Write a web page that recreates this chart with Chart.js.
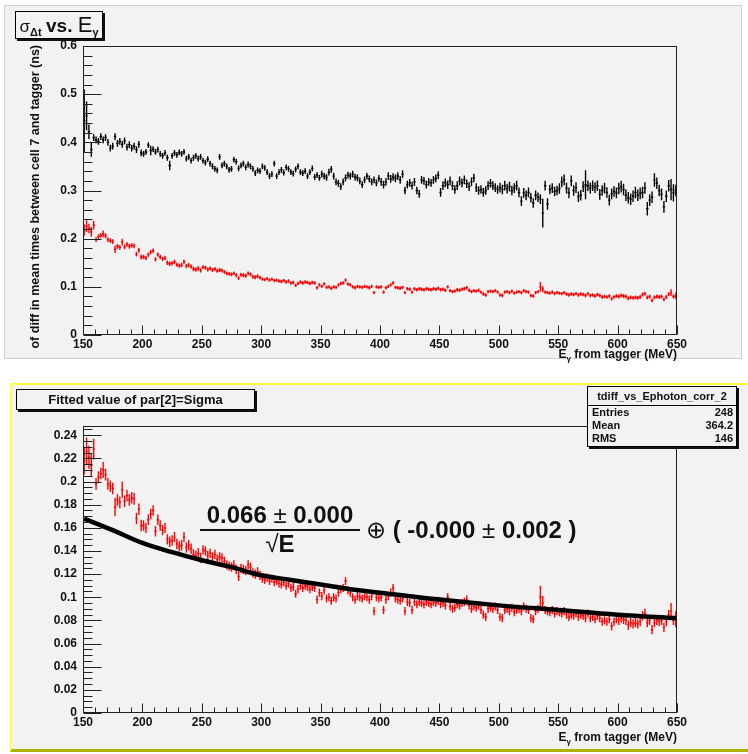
<!DOCTYPE html>
<html>
<head>
<meta charset="utf-8">
<script src="https://cdn.jsdelivr.net/npm/chart.js@4.4.1/dist/chart.umd.min.js"></script>
<style>
  body { margin: 0; width: 748px; height: 754px; position: relative; overflow: hidden; background: #fff;
         font-family: "Liberation Sans", Arial, sans-serif; color: #111; }
  .pad { position: absolute; background: #f2f2f2; }
  #padTop { left: 4px; top: 5px; width: 736px; height: 352px; border: 1px solid #cfcfcf; }
  #padBot { left: 10px; top: 383px; width: 738px; height: 364px; border-top: 2px solid #ffff3a;
            border-left: 2px solid #ffff3a; border-bottom: 3px solid #b0b000; }
  canvas { position: absolute; left: 0; }
  #cTop { top: 0; }
  #cBot { top: 380px; }
  .box { position: absolute; background: #f2f2f2; border: 1px solid #000; box-shadow: 2px 2px 0 #111;
         box-sizing: border-box; white-space: nowrap; }
  #titleTop { left: 15px; top: 11px; width: 88px; height: 28px; text-align: center; line-height: 26px; }
  #titleTop .sig { font-size: 17px; }
  #titleTop sub { font-size: 11px; font-weight: bold; vertical-align: -4px; }
  #titleTop .vs { font-size: 19px; font-weight: bold; }
  #titleTop .e { font-size: 22px; }
  #titleBot { left: 16px; top: 389px; width: 239px; height: 21px; text-align: center; font-weight: bold;
              font-size: 13px; line-height: 20px; }
  #stats { left: 587px; top: 386px; width: 150px; height: 61px; font-weight: bold; font-size: 11px; }
  #stats .head { text-align: center; height: 18px; line-height: 18px; border-bottom: 1px solid #000; }
  #stats .row { height: 13px; line-height: 13px; padding: 0 3px 0 4px; display: flex; justify-content: space-between; }
  .axtitle { position: absolute; font-weight: bold; font-size: 12px; white-space: nowrap; }
  .axtitle sub { font-size: 8px; vertical-align: -3px; }
  #xtTop { right: 71px; top: 347px; }
  #xtBot { right: 71px; top: 730px; }
  #ytTop { left: 28px; top: 385px; width: 340px; text-align: right; transform-origin: left top;
           transform: rotate(-90deg); line-height: 14px; font-size: 12.5px; }
  #formula { position: absolute; left: 190px; top: 502px; font-weight: bold; font-size: 24px; }
  #formula .frac { position: absolute; left: 10px; top: 0; width: 160px; text-align: center; }
  #formula .num { display: block; line-height: 26px; border-bottom: 2px solid #111; padding-bottom: 1px; }
  #formula .den { display: block; line-height: 26px; }
  #formula .rest { position: absolute; left: 176px; top: 15px; white-space: nowrap; line-height: 26px; }
  .thin { font-weight: normal; }
</style>
</head>
<body>
<div class="pad" id="padTop"></div>
<div class="pad" id="padBot"></div>
<canvas id="cTop" width="748" height="360"></canvas>
<canvas id="cBot" width="748" height="360"></canvas>

<div class="box" id="titleTop"><span class="sig">σ</span><sub>Δt</sub> <span class="vs">vs. </span><span class="e">E</span><sub>γ</sub></div>
<div class="axtitle" id="ytTop">of diff in mean times between cell 7 and tagger (ns)</div>
<div class="axtitle" id="xtTop">E<sub>γ</sub> from tagger (MeV)</div>

<div class="box" id="titleBot">Fitted value of par[2]=Sigma</div>
<div class="box" id="stats">
  <div class="head">tdiff_vs_Ephoton_corr_2</div>
  <div class="row"><span>Entries</span><span>248</span></div>
  <div class="row"><span>Mean</span><span>364.2</span></div>
  <div class="row"><span>RMS</span><span>146</span></div>
</div>
<div id="formula">
  <div class="frac"><span class="num">0.066 <span class="thin">±</span> 0.000</span><span class="den"><span class="thin">√</span>E</span></div>
  <div class="rest"><span class="thin">⊕</span> ( -0.000 <span class="thin">±</span> 0.002 )</div>
</div>
<div class="axtitle" id="xtBot">E<sub>γ</sub> from tagger (MeV)</div>

<script>
// bins of 2 MeV from 150 to 650
const binLow = 150;
const binWidth = 2;
const nBins = 250;
const energies = Array.from({ length: nBins }, (_, i) => binLow + binWidth * (i + 0.5));

// sigma of time difference, before correction (black)
const blackSigma = [
  0.445, 0.455, 0.422, 0.385, 0.41, 0.405, 0.402, 0.412, 0.405, 0.41, 0.4, 0.388, 0.392, 0.412, 0.398, 0.402, 0.396, 0.403, 0.39, 0.395, 0.388, 0.392, 0.385, 0.396, 0.378,
  0.376, 0.38, 0.394, 0.383, 0.386, 0.38, 0.385, 0.376, 0.372, 0.378, 0.368, 0.352, 0.372, 0.378, 0.374, 0.379, 0.376, 0.38, 0.366, 0.37, 0.362, 0.368, 0.372, 0.366, 0.37,
  0.362, 0.358, 0.365, 0.356, 0.35, 0.345, 0.342, 0.37, 0.352, 0.356, 0.35, 0.343, 0.345, 0.364, 0.36, 0.346, 0.352, 0.356, 0.348, 0.354, 0.35, 0.345, 0.336, 0.342, 0.34,
  0.35, 0.347, 0.338, 0.33, 0.334, 0.356, 0.33, 0.338, 0.343, 0.337, 0.348, 0.345, 0.338, 0.335, 0.344, 0.35, 0.338, 0.336, 0.34, 0.33, 0.338, 0.346, 0.328, 0.332, 0.326,
  0.334, 0.33, 0.327, 0.338, 0.344, 0.33, 0.318, 0.315, 0.308, 0.318, 0.326, 0.332, 0.33, 0.334, 0.328, 0.326, 0.32, 0.312, 0.322, 0.33, 0.324, 0.318, 0.322, 0.316, 0.325,
  0.318, 0.312, 0.318, 0.33, 0.324, 0.328, 0.325, 0.33, 0.322, 0.334, 0.3, 0.312, 0.316, 0.31, 0.318, 0.3, 0.293, 0.322, 0.32, 0.312, 0.318, 0.316, 0.322, 0.325, 0.332,
  0.296, 0.31, 0.316, 0.312, 0.32, 0.31, 0.302, 0.31, 0.32, 0.316, 0.322, 0.314, 0.308, 0.318, 0.326, 0.306, 0.3, 0.302, 0.296, 0.3, 0.31, 0.315, 0.31, 0.306, 0.302,
  0.306, 0.302, 0.31, 0.304, 0.308, 0.3, 0.305, 0.31, 0.296, 0.278, 0.295, 0.29, 0.296, 0.285, 0.274, 0.29, 0.286, 0.282, 0.253, 0.31, 0.272, 0.302, 0.305, 0.298, 0.3,
  0.304, 0.318, 0.322, 0.305, 0.295, 0.32, 0.3, 0.306, 0.287, 0.29, 0.308, 0.312, 0.31, 0.305, 0.31, 0.306, 0.31, 0.292, 0.3, 0.305, 0.296, 0.28, 0.293, 0.298, 0.295,
  0.304, 0.308, 0.302, 0.29, 0.285, 0.282, 0.288, 0.296, 0.29, 0.294, 0.296, 0.305, 0.262, 0.28, 0.286, 0.322, 0.315, 0.3, 0.292, 0.266, 0.288, 0.31, 0.302, 0.295, 0.3
];

// sigma after correction (red), same histogram shown in both pads
const redSigma = [
  0.218, 0.226, 0.221, 0.214, 0.228, 0.198, 0.204, 0.207, 0.21, 0.206, 0.198, 0.196, 0.194, 0.178, 0.184, 0.182, 0.193, 0.183, 0.188, 0.184, 0.186, 0.185, 0.168, 0.176, 0.162,
  0.162, 0.16, 0.167, 0.172, 0.175, 0.157, 0.167, 0.162, 0.158, 0.16, 0.15, 0.148, 0.149, 0.152, 0.146, 0.144, 0.145, 0.152, 0.143, 0.145, 0.142, 0.137, 0.136, 0.138, 0.134,
  0.141, 0.14, 0.136, 0.138, 0.135, 0.137, 0.133, 0.135, 0.134, 0.131, 0.128, 0.127, 0.126, 0.128, 0.124, 0.118, 0.125, 0.124, 0.123, 0.128, 0.126, 0.121, 0.12, 0.122, 0.119,
  0.116, 0.115, 0.117, 0.114, 0.116, 0.113, 0.114, 0.112, 0.111, 0.113, 0.11, 0.112, 0.108, 0.109, 0.103, 0.107, 0.11, 0.108, 0.11, 0.109, 0.107, 0.109, 0.108, 0.098, 0.104,
  0.101, 0.106, 0.099, 0.1, 0.097, 0.1, 0.099, 0.104, 0.107, 0.108, 0.114, 0.106, 0.104, 0.1, 0.098, 0.101, 0.1, 0.099, 0.101, 0.1, 0.098, 0.101, 0.088, 0.1, 0.099,
  0.1, 0.089, 0.098, 0.101, 0.104, 0.108, 0.099, 0.098, 0.097, 0.099, 0.088, 0.096, 0.095, 0.089, 0.096, 0.094, 0.096, 0.095, 0.094, 0.096, 0.095, 0.094, 0.096, 0.095, 0.097,
  0.094, 0.095, 0.093, 0.1, 0.092, 0.09, 0.091, 0.094, 0.093, 0.095, 0.096, 0.098, 0.093, 0.09, 0.092, 0.091, 0.093, 0.089, 0.085, 0.083, 0.09, 0.091, 0.09, 0.092, 0.089,
  0.083, 0.082, 0.089, 0.09, 0.088, 0.091, 0.087, 0.089, 0.09, 0.088, 0.092, 0.09, 0.089, 0.082, 0.081, 0.088, 0.09, 0.1, 0.095, 0.089, 0.088, 0.087, 0.089, 0.086, 0.088,
  0.087, 0.086, 0.088, 0.085, 0.083, 0.085, 0.084, 0.086, 0.083, 0.085, 0.084, 0.082, 0.086, 0.082, 0.083, 0.081, 0.084, 0.082, 0.079, 0.08, 0.079, 0.081, 0.075, 0.079, 0.081,
  0.08, 0.082, 0.081, 0.08, 0.076, 0.078, 0.077, 0.078, 0.077, 0.079, 0.084, 0.086, 0.078, 0.08, 0.072, 0.078, 0.08, 0.079, 0.08, 0.074, 0.079, 0.085, 0.088, 0.08, 0.081
];

// typical error per 50 MeV block, plus the few bins with larger bars
const blackErrBlock = [0.007, 0.006, 0.006, 0.006, 0.007, 0.008, 0.009, 0.01, 0.011, 0.012];
const blackErrBig = { 151: 0.065, 153: 0.03, 155: 0.015, 157: 0.015, 207: 0.01, 223: 0.01, 537: 0.03, 541: 0.012, 573: 0.03, 625: 0.014, 631: 0.014, 645: 0.022, 647: 0.018 };
const redErrBlock = [0.005, 0.0045, 0.004, 0.0035, 0.0035, 0.0035, 0.0035, 0.0035, 0.0035, 0.004];
const redErrBig = { 151: 0.012, 153: 0.012, 155: 0.01, 157: 0.01, 159: 0.009, 167: 0.007, 177: 0.008, 183: 0.007, 535: 0.01, 537: 0.006, 645: 0.007, 649: 0.007 };

// fit curve
const fitE = [151, 175, 200, 225, 250, 275, 300, 325, 350, 375, 400, 450, 500, 550, 600, 650];
const fitSigma = [0.168, 0.158, 0.147, 0.139, 0.132, 0.126, 0.119, 0.115, 0.111, 0.107, 0.104, 0.098, 0.093, 0.089, 0.085, 0.082];

// axis ticks
const xTicks = [150, 200, 250, 300, 350, 400, 450, 500, 550, 600, 650];
const yTicksTop = [0, 0.1, 0.2, 0.3, 0.4, 0.5, 0.6];
const yTicksBot = [0, 0.02, 0.04, 0.06, 0.08, 0.1, 0.12, 0.14, 0.16, 0.18, 0.2, 0.22, 0.24];

function points(vals, errBlock, errBig) {
  return vals.map((v, i) => {
    const e = energies[i];
    const err = errBig[e] !== undefined ? errBig[e] : errBlock[Math.floor(i / 25)];
    return { x: e, y: v, err: err };
  });
}

// ROOT style crosses: horizontal bar = bin width, vertical bar = error
const errorBars = {
  id: 'errorBars',
  beforeDatasetsDraw(chart) {
    const { ctx, chartArea } = chart;
    const x = chart.scales.x, y = chart.scales.y;
    ctx.save();
    ctx.beginPath();
    ctx.rect(chartArea.left, chartArea.top, chartArea.width, chartArea.height);
    ctx.clip();
    chart.data.datasets.forEach(ds => {
      if (!ds.crosses) return;
      ctx.strokeStyle = ds.borderColor;
      ctx.lineWidth = 1.4;
      ctx.beginPath();
      ds.data.forEach(p => {
        const px = x.getPixelForValue(p.x), py = y.getPixelForValue(p.y);
        ctx.moveTo(x.getPixelForValue(p.x - binWidth / 2), py);
        ctx.lineTo(x.getPixelForValue(p.x + binWidth / 2), py);
        ctx.moveTo(px, y.getPixelForValue(p.y - p.err));
        ctx.lineTo(px, y.getPixelForValue(p.y + p.err));
      });
      ctx.stroke();
    });
    ctx.restore();
  }
};

// frame and inside ticks like ROOT
const rootFrame = {
  id: 'rootFrame',
  afterDraw(chart, args, opts) {
    const { ctx, chartArea: a } = chart;
    const x = chart.scales.x, y = chart.scales.y;
    ctx.save();
    ctx.strokeStyle = '#222';
    ctx.lineWidth = 1;
    ctx.strokeRect(Math.round(a.left) + 0.5, Math.round(a.top) + 0.5, Math.round(a.width) - 1, Math.round(a.height) - 1);
    ctx.beginPath();
    const left = Math.round(a.left) + 0.5, bottom = Math.round(a.bottom) - 0.5;
    for (let k = 0; ; k++) {
      const v = y.min + k * opts.yMinor;
      if (v > y.max + 1e-9) break;
      const major = Math.abs(v / opts.yMajor - Math.round(v / opts.yMajor)) < 1e-6;
      const py = Math.round(y.getPixelForValue(v)) + 0.5;
      ctx.moveTo(left, py);
      ctx.lineTo(left + (major ? 18 : 9), py);
    }
    for (let k = 0; ; k++) {
      const v = x.min + k * opts.xMinor;
      if (v > x.max + 1e-9) break;
      const major = (v - x.min) % opts.xMajor === 0;
      const px = Math.round(x.getPixelForValue(v)) + 0.5;
      ctx.moveTo(px, bottom);
      ctx.lineTo(px, bottom - (major ? 9 : 5));
    }
    ctx.stroke();
    ctx.restore();
  }
};

const tickFont = { family: '"Liberation Sans", Arial, sans-serif', size: 12, weight: 'bold' };

function makeOptions(yMax, yTicks, yMinor, yMajor, xHeight) {
  return {
    responsive: false,
    animation: false,
    layout: { padding: { left: 0, right: 71, top: 46, bottom: 0 } },
    plugins: {
      legend: { display: false },
      tooltip: { enabled: false },
      rootFrame: { yMinor: yMinor, yMajor: yMajor, xMinor: 10, xMajor: 50 }
    },
    scales: {
      x: {
        type: 'linear', min: 150, max: 650,
        grid: { display: false, drawTicks: false }, border: { display: false },
        ticks: { font: tickFont, color: '#111', padding: 2, maxRotation: 0 },
        afterBuildTicks(s) { s.ticks = xTicks.map(v => ({ value: v })); },
        afterFit(s) { s.height = xHeight; }
      },
      y: {
        min: 0, max: yMax,
        grid: { display: false, drawTicks: false }, border: { display: false },
        ticks: { font: tickFont, color: '#111', padding: 6, callback: v => String(+v.toFixed(3)) },
        afterBuildTicks(s) { s.ticks = yTicks.map(v => ({ value: v })); },
        afterFit(s) { s.width = 83; }
      }
    }
  };
}

new Chart(document.getElementById('cTop'), {
  type: 'scatter',
  data: {
    datasets: [
      { label: 'before', data: points(blackSigma, blackErrBlock, blackErrBig), borderColor: '#000', pointRadius: 0, crosses: true },
      { label: 'after', data: points(redSigma, redErrBlock, redErrBig), borderColor: '#ff0000', pointRadius: 0, crosses: true }
    ]
  },
  options: makeOptions(0.6, yTicksTop, 0.02, 0.1, 25),
  plugins: [errorBars, rootFrame]
});

new Chart(document.getElementById('cBot'), {
  type: 'scatter',
  data: {
    datasets: [
      { label: 'sigma', data: points(redSigma, redErrBlock, redErrBig), borderColor: '#ff0000', pointRadius: 0, crosses: true },
      { label: 'fit', data: fitE.map((e, i) => ({ x: e, y: fitSigma[i] })), borderColor: '#000', borderWidth: 4.5,
        showLine: true, tension: 0.4, pointRadius: 0 }
    ]
  },
  options: makeOptions(0.248, yTicksBot, 0.005, 0.02, 27),
  plugins: [errorBars, rootFrame]
});
</script>
</body>
</html>
